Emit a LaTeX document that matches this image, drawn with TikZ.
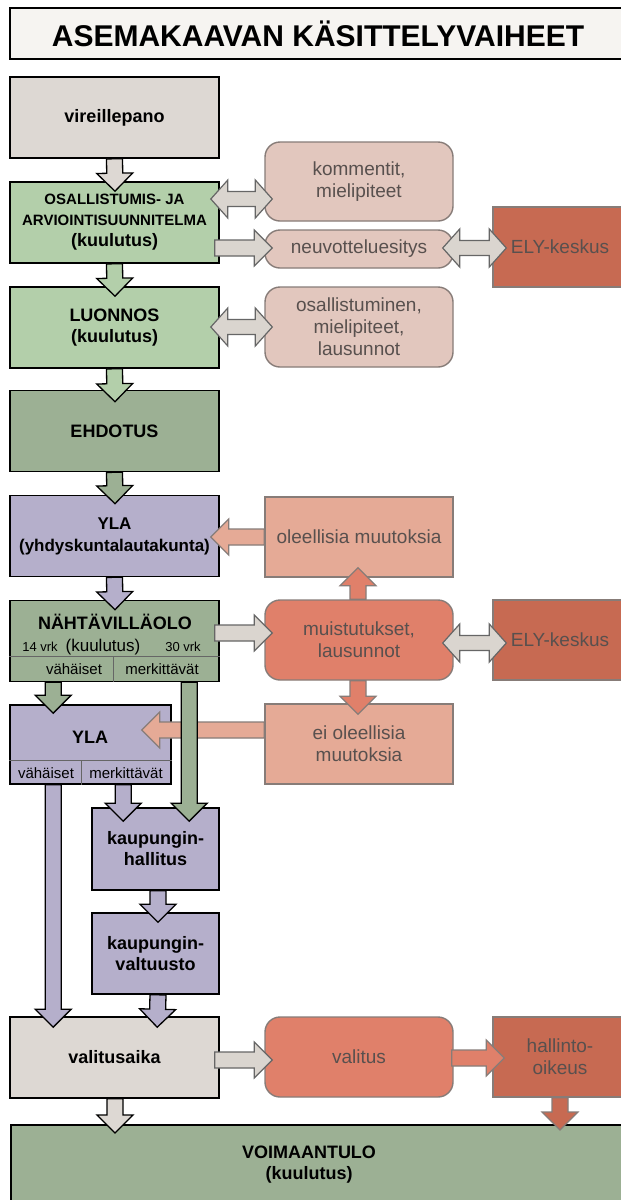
\documentclass[tikz,border=0pt]{standalone}
\usepackage{fontspec}
\setmainfont{Liberation Sans}
\usetikzlibrary{calc}

\definecolor{beige}{RGB}{221,216,211}
\definecolor{lgreen}{RGB}{179,207,170}
\definecolor{ggreen}{RGB}{156,176,148}
\definecolor{lilac}{RGB}{181,175,203}
\definecolor{notepink}{RGB}{226,199,190}
\definecolor{lsalmon}{RGB}{229,170,150}
\definecolor{salmon}{RGB}{224,128,106}
\definecolor{brick}{RGB}{199,106,82}
\definecolor{arrgray}{RGB}{218,213,207}
\definecolor{edgegray}{RGB}{135,124,120}
\definecolor{txtgray}{RGB}{88,80,78}
\definecolor{titlebg}{RGB}{246,244,241}

\newcommand{\blockarrow}[3][]{%
  \path (#2) coordinate (ba-s);
  \path (#3) coordinate (ba-e);
  \path ($(ba-e)!18pt!(ba-s)$) coordinate (ba-c);
  \filldraw[#1] ($(ba-s)!8pt!90:(ba-e)$) -- ($(ba-c)!8pt!90:(ba-e)$)
    -- ($(ba-c)!18pt!90:(ba-e)$) -- (ba-e) -- ($(ba-c)!18pt!-90:(ba-e)$)
    -- ($(ba-c)!8pt!-90:(ba-e)$) -- ($(ba-s)!8pt!-90:(ba-e)$) -- cycle;}
\newcommand{\twinarrow}[3][]{%
  \path (#2) coordinate (ta-a);
  \path (#3) coordinate (ta-b);
  \path ($(ta-a)!17pt!(ta-b)$) coordinate (ta-ca);
  \path ($(ta-b)!17pt!(ta-a)$) coordinate (ta-cb);
  \filldraw[#1] (ta-a) -- ($(ta-ca)!19pt!90:(ta-b)$) -- ($(ta-ca)!7.5pt!90:(ta-b)$)
    -- ($(ta-cb)!7.5pt!-90:(ta-a)$) -- ($(ta-cb)!19pt!-90:(ta-a)$) -- (ta-b)
    -- ($(ta-cb)!19pt!90:(ta-a)$) -- ($(ta-cb)!7.5pt!90:(ta-a)$)
    -- ($(ta-ca)!7.5pt!-90:(ta-b)$) -- ($(ta-ca)!19pt!-90:(ta-b)$) -- cycle;}

\begin{document}
\begin{tikzpicture}[x=1pt,y=-1pt,
    phase/.style={draw=black, line width=1.6pt, minimum width=209pt, minimum height=81pt,
      inner sep=2pt, align=center, text=black, font=\fontsize{18}{21}\selectfont\bfseries},
    note/.style={draw=edgegray, line width=1.4pt, minimum width=188pt, minimum height=80pt,
      inner sep=2pt, align=center, text=txtgray, font=\fontsize{19}{22}\selectfont},
    rnote/.style={note, rounded corners=15pt},
    small/.style={inner sep=0pt, text=black, font=\fontsize{15}{17}\selectfont},
    larr/.style={draw=black, line width=1.3pt},
    garr/.style={fill=arrgray, draw=black!60, line width=1.2pt},
    sarr/.style={draw=edgegray, line width=1.2pt},
    divider/.style={draw=black!60, line width=0.8pt}]
    \useasboundingbox (0,0) rectangle (621,1200);
    \fill[white] (0,0) rectangle (621,1200);

    \node[draw=black, line width=2pt, fill=titlebg, anchor=north west, minimum width=616pt,
      minimum height=51pt, font=\fontsize{30}{34}\selectfont\bfseries] (title) at (9,7)
      {ASEMAKAAVAN KÄSITTELYVAIHEET};

    \node[phase, fill=beige] (vir) at (114.5,117.5) {vireillepano};
    \node[phase, fill=lgreen] (oas) at (114.5,222.5)
      {\fontsize{15}{19}\selectfont OSALLISTUMIS- JA\\
       \fontsize{15}{19}\selectfont ARVIOINTISUUNNITELMA\\(kuulutus)};
    \node[phase, fill=lgreen] (luo) at (114.5,327.5) {LUONNOS\\(kuulutus)};
    \node[phase, fill=ggreen] (ehd) at (114.5,431) {EHDOTUS};
    \node[phase, fill=lilac, font=\fontsize{17}{22}\selectfont\bfseries] (yla) at (114.5,536)
      {YLA\\(yhdyskuntalautakunta)};
    \node[phase, fill=ggreen] (nah) at (114.5,641) {};
    \node[phase, fill=lilac, minimum width=161pt, minimum height=79pt] (yla2) at (90.5,744.5) {};
    \node[phase, fill=lilac, minimum width=127pt, minimum height=82pt] (khal) at (155.5,849)
      {kaupungin-\\hallitus};
    \node[phase, fill=lilac, minimum width=127pt] (kval) at (155.5,953.5) {kaupungin-\\valtuusto};
    \node[phase, fill=beige] (vali) at (114.5,1057.5) {valitusaika};
    \node[phase, fill=ggreen, anchor=north west, minimum width=640pt, minimum height=95pt]
      (voim) at (10,1124) {};
    \node[phase, draw=none, minimum width=0pt, minimum height=0pt] (voimtxt) at (309,1165)
      {VOIMAANTULO\\(kuulutus)};

    \node[phase, draw=none, minimum width=0pt, minimum height=0pt] (nahtit) at (115,622)
      {NÄHTÄVILLÄOLO};
    \node[small, anchor=base, font=\fontsize{13}{15}\selectfont] (vrk14) at (40,651) {14 vrk};
    \node[small, anchor=base, font=\fontsize{17}{20}\selectfont] (kuul) at (103,651) {(kuulutus)};
    \node[small, anchor=base, font=\fontsize{13}{15}\selectfont] (vrk30) at (183,651) {30 vrk};
    \draw[divider] ($(nah.south west)+(0,-26)$) -- ($(nah.south east)+(0,-26)$);
    \draw[divider] ($(nah.south west)+(104,0)$) -- ++(0,-26);
    \node[small] (nahva) at (74,669) {vähäiset};
    \node[small] (nahme) at (162,669) {merkittävät};

    \node[phase, draw=none, minimum width=0pt, minimum height=0pt] (ylatit) at (90,737) {YLA};
    \draw[divider] ($(yla2.south west)+(0,-24)$) -- ($(yla2.south east)+(0,-24)$);
    \draw[divider] ($(yla2.south west)+(72,0)$) -- ++(0,-24);
    \node[small] (ylava) at (46,773) {vähäiset};
    \node[small] (ylame) at (126,773) {merkittävät};

    \node[rnote, fill=notepink, minimum height=79pt] (komm) at (359,181.5) {kommentit,\\mielipiteet};
    \node[rnote, fill=notepink, minimum height=38pt] (neuv) at (359,249) {neuvotteluesitys};
    \node[rnote, fill=notepink] (osml) at (359,327) {osallistuminen,\\mielipiteet,\\lausunnot};
    \node[note, fill=lsalmon] (oleel) at (359,537) {oleellisia muutoksia};
    \node[rnote, fill=salmon] (muist) at (359,640) {muistutukset,\\lausunnot};
    \node[note, fill=lsalmon] (eiol) at (359,744) {ei oleellisia\\muutoksia};
    \node[rnote, fill=salmon] (valit) at (359,1057) {valitus};
    \node[note, fill=brick, minimum width=134pt] (ely1) at (560,247) {ELY-keskus};
    \node[note, fill=brick, minimum width=134pt] (ely2) at (560,640) {ELY-keskus};
    \node[note, fill=brick, minimum width=134pt] (hall) at (560,1057) {hallinto-\\oikeus};

    \blockarrow[larr, fill=beige]{vir.south}{$(oas.north)+(0.5,10)$}
    \blockarrow[larr, fill=lgreen]{oas.south}{$(luo.north)+(0.5,10)$}
    \blockarrow[larr, fill=lgreen]{luo.south}{$(ehd.north)+(0.5,12)$}
    \blockarrow[larr, fill=ggreen]{ehd.south}{$(yla.north)+(0.5,9)$}
    \blockarrow[larr, fill=lilac]{yla.south}{$(nah.north)+(0.5,10)$}
    \blockarrow[larr, fill=ggreen]{$(nah.south west)+(44,0)$}{$(yla2.north west)+(44,9)$}
    \blockarrow[sarr, fill=lsalmon]{$(eiol.west)+(0,-14)$}{$(yla2.east)+(-30,-14.5)$}
    \blockarrow[larr, fill=ggreen]{$(nah.south west)+(180,0)$}{$(khal.north west)+(98,14)$}
    \blockarrow[larr, fill=lilac]{$(yla2.south west)+(114,0)$}{$(khal.north west)+(32,14)$}
    \blockarrow[larr, fill=lilac]{$(yla2.south west)+(44,0)$}{$(vali.north west)+(44,11)$}
    \blockarrow[larr, fill=lilac]{$(khal.south)+(2.5,0)$}{$(kval.north)+(2.5,10)$}
    \blockarrow[larr, fill=lilac]{$(kval.south)+(2.5,0)$}{$(vali.north west)+(148,11)$}
    \blockarrow[larr, fill=beige]{$(vali.south)+(0.5,0)$}{$(voim.north west)+(105,9)$}
    \blockarrow[sarr, fill=brick]{hall.south}{$(voim.north west)+(550,6)$}

    \twinarrow[garr]{$(oas.east)+(-9,-23.5)$}{$(komm.west)+(8,17.5)$}
    \blockarrow[garr]{$(oas.east)+(-5,25.5)$}{$(neuv.west)+(8,-1)$}
    \twinarrow[garr]{$(neuv.east)+(-11,-1)$}{$(ely1.west)+(14,1)$}
    \twinarrow[garr]{$(luo.east)+(-9,-0.5)$}{$(osml.west)+(8,0)$}
    \blockarrow[sarr, fill=lsalmon]{oleel.west}{$(yla.east)+(-9,1)$}
    \blockarrow[garr]{$(nah.east)+(-5,-8)$}{$(muist.west)+(8,-7)$}
    \twinarrow[garr]{$(muist.east)+(-11,3)$}{$(ely2.west)+(14,3)$}
    \blockarrow[sarr, fill=salmon]{$(muist.north)+(-1,0)$}{$(oleel.south)+(-1,-10)$}
    \blockarrow[sarr, fill=salmon]{$(muist.south)+(-1,0)$}{$(eiol.north)+(-1,11)$}
    \blockarrow[garr]{$(vali.east)+(-5,2.5)$}{$(valit.west)+(8,3)$}
    \blockarrow[sarr, fill=salmon]{$(valit.east)+(-2,1)$}{$(hall.west)+(12,1)$}
\end{tikzpicture}
\end{document}
